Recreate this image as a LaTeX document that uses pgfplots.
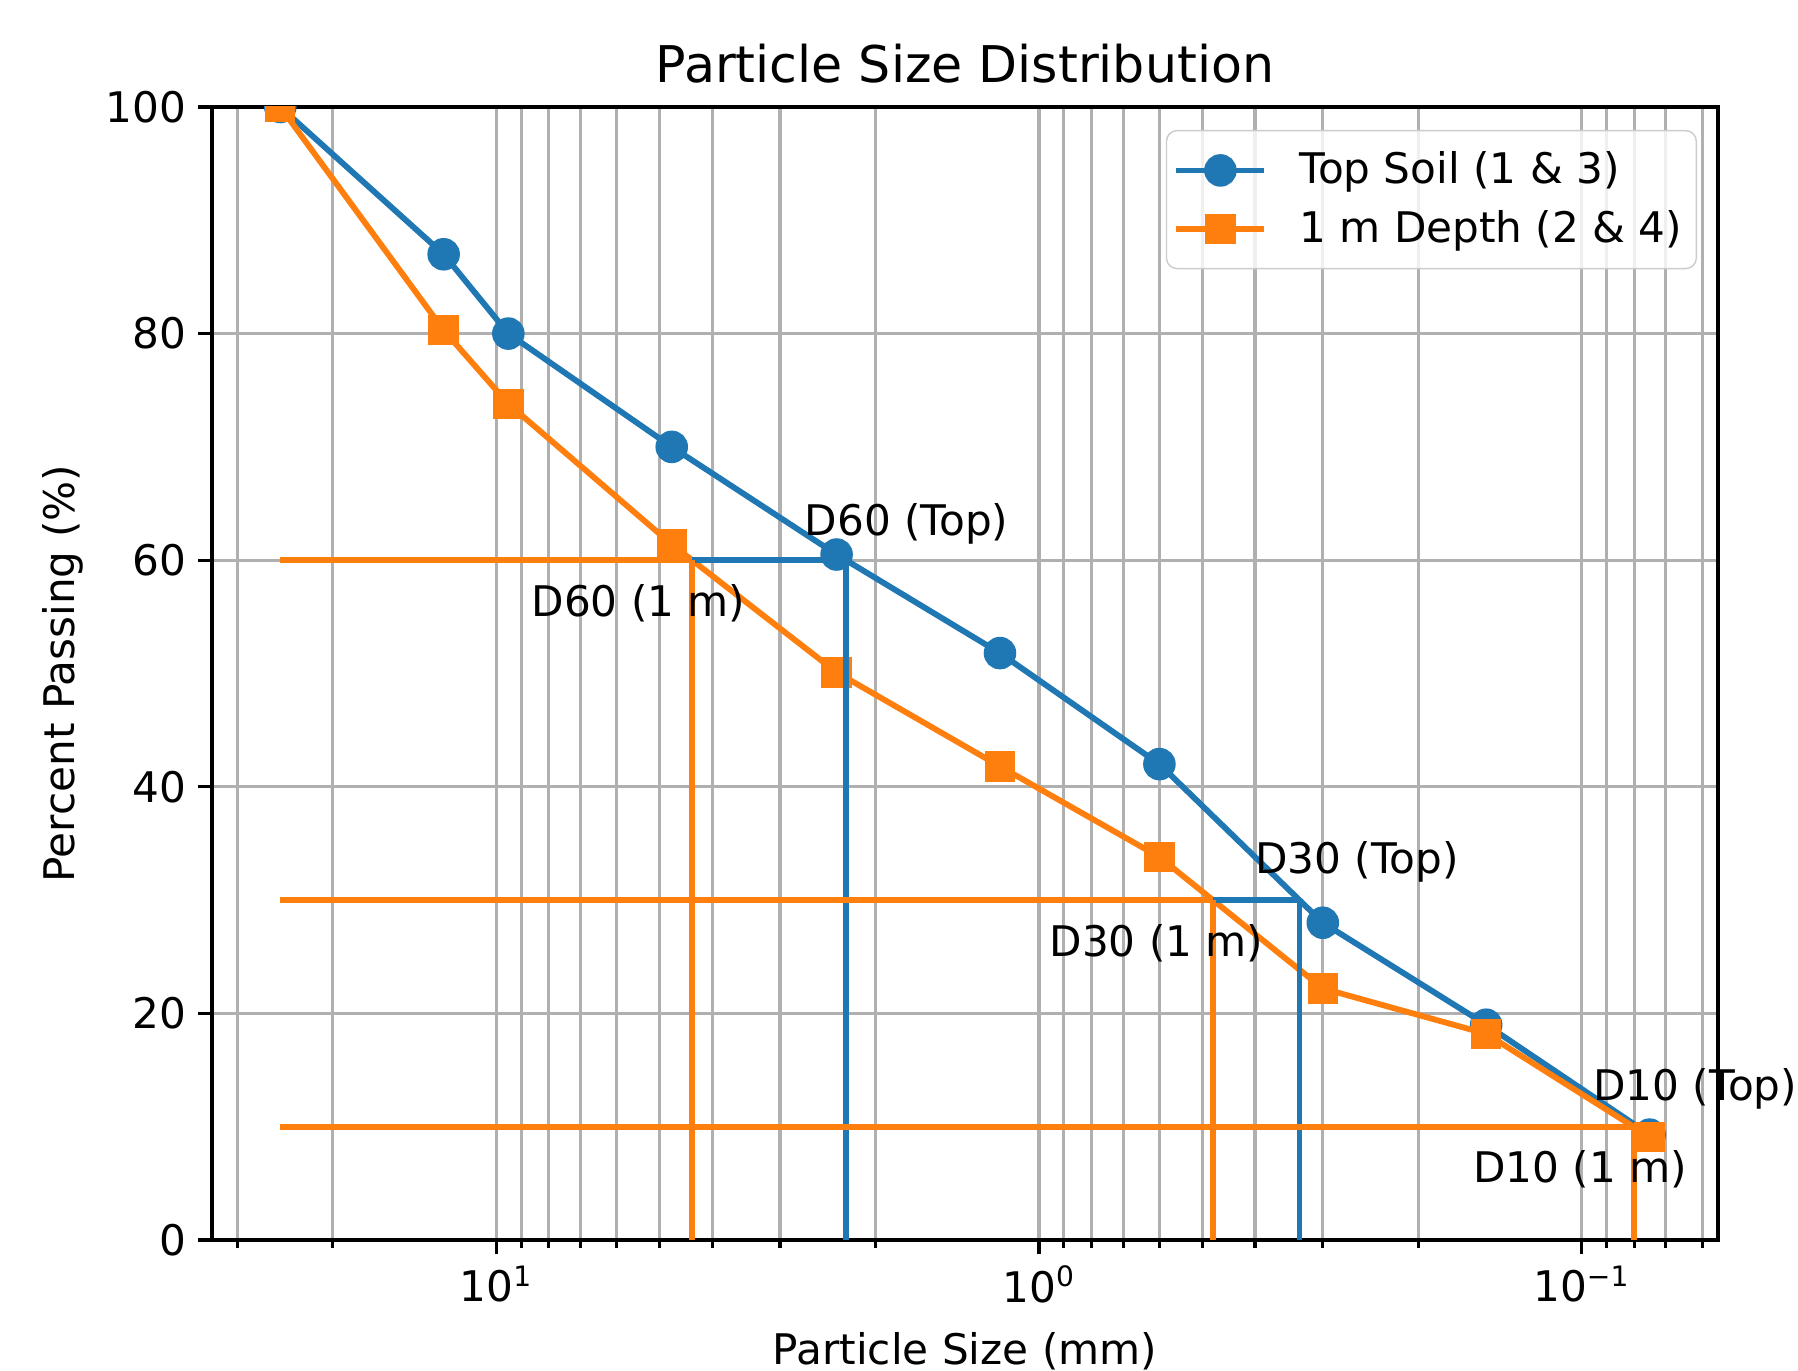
\documentclass[border=0pt]{standalone}
\usepackage{fontspec}
\setmainfont{DejaVu Sans}
\usepackage{pgfplots}
\pgfplotsset{compat=1.18}
\definecolor{tblue}{RGB}{31,119,180}
\definecolor{torange}{RGB}{255,127,14}
\definecolor{gridgray}{RGB}{176,176,176}
\definecolor{legframe}{RGB}{204,204,204}
\newcommand{\lblfont}{\fontsize{12}{14.4}\selectfont}
\begin{document}
\begin{tikzpicture}
\useasboundingbox (-2.12cm,-1.31cm) rectangle (15.86cm,12.40cm);
\begin{axis}[
  at={(0,0)}, anchor=south west,
  scale only axis, width=15.06cm, height=11.33cm,
  xmode=log, x dir=reverse,
  xmin=0.0561, xmax=33.4, ymin=0, ymax=100,
  xtick={0.1,1,10},
  xticklabels={10\textsuperscript{−1},10\textsuperscript{0},10\textsuperscript{1}},
  minor xtick={0.06,0.07,0.08,0.09,0.2,0.3,0.4,0.5,0.6,0.7,0.8,0.9,2,3,4,5,6,7,8,9,20,30},
  ytick={0,20,40,60,80,100},
  /pgf/number format/assume math mode=true,
  ticklabel style={font=\lblfont},
  tick align=outside,
  xtick pos=left, ytick pos=left,
  major tick length=3.9pt, minor tick length=2.2pt,
  every tick/.style={black, line width=0.9pt},
  axis line style={line width=0.9pt},
  xmajorgrids, xminorgrids, ymajorgrids,
  major grid style={gridgray, line width=0.9pt},
  minor grid style={gridgray, line width=0.9pt},
  clip marker paths=true,
  title={Particle Size Distribution},
  every axis title/.style={font=\fontsize{14.4}{17}\selectfont, at={(axis description cs:0.5,1)}, anchor=center, yshift=0.43cm},
  xlabel={Particle Size (mm)},
  every axis x label/.style={font=\lblfont, at={(axis description cs:0.5,0)}, anchor=center, yshift=-1.11cm},
  ylabel={Percent Passing (\%)},
  every axis y label/.style={font=\lblfont, at={(axis description cs:-0.099,0.5)}, anchor=center, rotate=90},
  legend cell align=left,
  legend image code/.code={\draw[mark repeat=2,mark phase=2,#1,/tikz/fill opacity=1] plot coordinates {(0cm,0cm)(0.44cm,0cm)(0.88cm,0cm)};},
  legend style={at={(1,1)}, anchor=north east, xshift=-0.21cm, yshift=-0.23cm,
    draw=legframe, rounded corners=3pt, fill=white, fill opacity=0.8, text opacity=1,
    font=\lblfont, row sep=2pt, inner xsep=2pt, inner ysep=4pt,
    /tikz/every odd column/.append style={column sep=0.25cm}},
]
\addplot[tblue, line width=1.66pt, mark=*, mark size=3.8pt] coordinates {
 (25,100) (12.5,87.0) (9.5,80.0) (4.75,70.0) (2.36,60.5) (1.18,51.8) (0.6,42.0) (0.3,28.0) (0.15,19.0) (0.075,9.3)};
\addlegendentry{Top Soil (1 \& 3)}
\addplot[torange, line width=1.66pt, mark=square*, mark size=3.5pt] coordinates {
 (25,100) (12.5,80.3) (9.5,73.8) (4.75,61.4) (2.36,50.1) (1.18,41.8) (0.6,33.8) (0.3,22.2) (0.15,18.2) (0.075,9.1)};
\addlegendentry{1 m Depth (2 \& 4)}
% D-lines, top soil
\addplot[tblue, line width=1.66pt, forget plot] coordinates {(25,60) (2.268,60)};
\addplot[tblue, line width=1.66pt, forget plot] coordinates {(2.268,0) (2.268,60)};
\addplot[tblue, line width=1.66pt, forget plot] coordinates {(25,30) (0.3313,30)};
\addplot[tblue, line width=1.66pt, forget plot] coordinates {(0.3313,0) (0.3313,30)};
\addplot[tblue, line width=1.66pt, forget plot] coordinates {(25,10) (0.0800,10)};
\addplot[tblue, line width=1.66pt, forget plot] coordinates {(0.0800,0) (0.0800,10)};
% D-lines, 1 m depth
\addplot[torange, line width=1.66pt, forget plot] coordinates {(25,60) (4.356,60)};
\addplot[torange, line width=1.66pt, forget plot] coordinates {(4.356,0) (4.356,60)};
\addplot[torange, line width=1.66pt, forget plot] coordinates {(25,30) (0.478,30)};
\addplot[torange, line width=1.66pt, forget plot] coordinates {(0.478,0) (0.478,30)};
\addplot[torange, line width=1.66pt, forget plot] coordinates {(25,10) (0.0801,10)};
\addplot[torange, line width=1.66pt, forget plot] coordinates {(0.0801,0) (0.0801,10)};
\coordinate (l1) at (axis cs:1.754,63.2);
\coordinate (l2) at (axis cs:5.47,56.2);
\coordinate (l3) at (axis cs:0.2596,33.4);
\coordinate (l4) at (axis cs:0.6075,26.2);
\coordinate (l5) at (axis cs:0.0618,13.3);
\coordinate (l6) at (axis cs:0.1006,6.2);
\end{axis}
\node[font=\lblfont] at (l1) {D60 (Top)};
\node[font=\lblfont] at (l2) {D60 (1 m)};
\node[font=\lblfont] at (l3) {D30 (Top)};
\node[font=\lblfont] at (l4) {D30 (1 m)};
\node[font=\lblfont] at (l5) {D10 (Top)};
\node[font=\lblfont] at (l6) {D10 (1 m)};
\end{tikzpicture}
\end{document}
